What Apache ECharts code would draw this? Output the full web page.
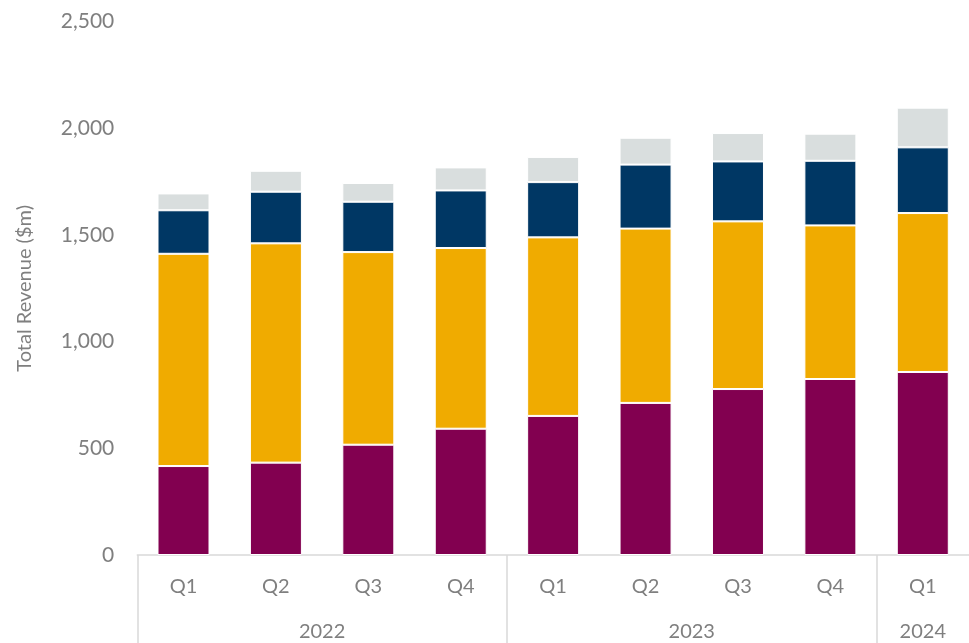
<!DOCTYPE html>
<html>
<head>
<meta charset="utf-8">
<script src="https://cdn.jsdelivr.net/npm/echarts@6/dist/echarts.min.js"></script>
<style>
  html, body { margin: 0; padding: 0; background: #fff; }
  #chart { width: 969px; height: 643px; }
</style>
</head>
<body>
<div id="chart"></div>
<script>
// Quarterly revenue, four business segments stacked ($m)
const quarters = ['Q1', 'Q2', 'Q3', 'Q4', 'Q1', 'Q2', 'Q3', 'Q4', 'Q1'];
const years = ['2022', '2023', '2024'];
// year group boundaries (in category units) and label centres
const yearBounds = [0, 4, 8];
const yearCentres = [2, 6, 8.5];

const segmentA = [417, 433, 517, 592, 652, 713, 778, 825, 858];
const segmentB = [995, 1028, 903, 847, 837, 817, 786, 720, 745];
const segmentC = [204, 242, 236, 270, 259, 300, 281, 303, 308];
const segmentD = [79, 98, 88, 108, 118, 126, 133, 127, 186];

const yTicks = { min: 0, max: 2500, interval: 500 };

const colors = ['#820050', '#F0AB00', '#003764', '#D9DEDE'];
const textColor = '#7f7f7f';
const lineColor = '#d9d9d9';
const font = 'Lato, "Open Sans", "Liberation Sans", sans-serif';

const chart = echarts.init(document.getElementById('chart'));

function barSeries(name, data, color) {
  return {
    name: name,
    type: 'bar',
    stack: 'total',
    barWidth: 52,
    data: data,
    itemStyle: { color: color, borderColor: '#ffffff', borderWidth: 1 },
    emphasis: { disabled: true }
  };
}

chart.setOption({
  animation: false,
  backgroundColor: '#ffffff',
  textStyle: { fontFamily: font },
  grid: { left: 137.3, width: 836, top: 21.7, bottom: 88, containLabel: false },
  xAxis: [
    {
      type: 'category',
      data: quarters,
      axisLine: { show: true, lineStyle: { color: lineColor, width: 1.5 } },
      axisTick: { show: false },
      axisLabel: { color: textColor, fontSize: 20, margin: 22, fontFamily: font }
    },
    {
      type: 'value',
      position: 'bottom',
      min: 0,
      max: quarters.length,
      axisLine: { show: false },
      splitLine: { show: false },
      axisTick: {
        show: true,
        customValues: yearBounds,
        length: 90,
        lineStyle: { color: lineColor, width: 1.5 }
      },
      axisLabel: {
        show: true,
        customValues: yearCentres,
        color: textColor,
        fontSize: 20,
        margin: 67,
        fontFamily: font,
        formatter: function (v) {
          const i = yearCentres.indexOf(v);
          return i >= 0 ? years[i] : '';
        }
      }
    }
  ],
  yAxis: {
    type: 'value',
    min: yTicks.min,
    max: yTicks.max,
    interval: yTicks.interval,
    name: 'Total Revenue ($m)',
    nameLocation: 'middle',
    nameGap: 103,
    nameTextStyle: { color: textColor, fontSize: 20, fontFamily: font },
    axisLine: { show: false },
    axisTick: { show: false },
    splitLine: { show: false },
    axisLabel: {
      color: textColor,
      fontSize: 21,
      margin: 23,
      fontFamily: font,
      formatter: function (v) { return v.toLocaleString('en-US'); }
    }
  },
  series: [
    barSeries('Segment A', segmentA, colors[0]),
    barSeries('Segment B', segmentB, colors[1]),
    barSeries('Segment C', segmentC, colors[2]),
    barSeries('Segment D', segmentD, colors[3])
  ]
});
</script>
</body>
</html>
